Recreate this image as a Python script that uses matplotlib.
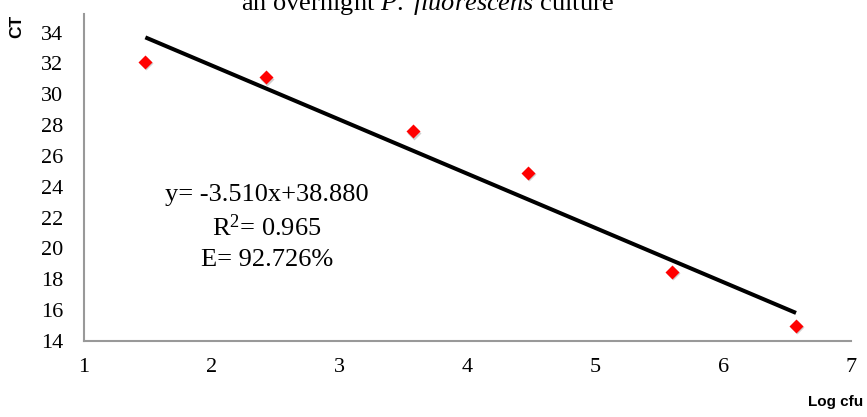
import matplotlib
matplotlib.use("Agg")
import matplotlib.pyplot as plt
import numpy as np

# data
log_cfu = [1.48, 2.42, 3.57, 4.47, 5.60, 6.57]
ct = [32.1, 31.1, 27.6, 24.9, 18.5, 15.0]
slope = -3.510
intercept = 38.880
x_ticks = [1, 2, 3, 4, 5, 6, 7]
y_ticks = [14, 16, 18, 20, 22, 24, 26, 28, 30, 32, 34]
eq_lines = ["y= -3.510x+38.880", "R$^2$= 0.965", "E= 92.726%"]

plt.rcParams['font.family'] = ['Liberation Serif', 'DejaVu Serif']
plt.rcParams['mathtext.fontset'] = 'custom'
plt.rcParams['mathtext.rm'] = 'Liberation Serif'
plt.rcParams['mathtext.it'] = 'Liberation Serif:italic'

fig = plt.figure(figsize=(8.67, 4.17), dpi=100)
ax = fig.add_axes([84 / 867, 1 - 341 / 417, (851 - 84) / 867, (341 - 14) / 417])

# fitted line across the data range
fx = np.array([min(log_cfu), max(log_cfu)])
ax.plot(fx, slope * fx + intercept, color='black', lw=2.9, solid_capstyle='butt', zorder=2)

# points with a soft shadow
shadow = ax.transData + matplotlib.transforms.ScaledTranslation(1 / 100, -1.5 / 100, fig.dpi_scale_trans)
ax.plot(log_cfu, ct, 'D', ms=7.5, color='#b0b0b0', alpha=0.6, mec='none', transform=shadow, zorder=3)
ax.plot(log_cfu, ct, 'D', ms=7, color='#ff0000', mec='none', zorder=4)

ax.set_xlim(1, 7)
ax.set_ylim(14, 35.2)
ax.set_xticks(x_ticks)
ax.set_yticks(y_ticks)
ax.tick_params(length=0, labelsize=16)
ax.tick_params(axis='x', pad=12)
ax.tick_params(axis='y', pad=15)
for s in ['top', 'right']:
    ax.spines[s].set_visible(False)
for s in ['left', 'bottom']:
    ax.spines[s].set_color('#999999')
    ax.spines[s].set_linewidth(1.5)

for i, t in enumerate(eq_lines):
    ax.text(2.43, 23.45 - i * 2.1, t, ha='center', va='center', fontsize=19)

fig.text(428 / 867, 1 - 10 / 417, 'an overnight $\\mathit{P.\\ fluorescens}$ culture',
         ha='center', va='baseline', fontsize=19)
fig.text(17 / 867, 1 - 26 / 417, 'CT', rotation=90, ha='center', va='center',
         fontsize=12.5, fontweight='bold', family='Liberation Sans')
fig.text(863 / 867, 1 - 402 / 417, 'Log cfu', ha='right', va='center',
         fontsize=11, fontweight='bold', family='Liberation Sans')

fig.savefig('out.png', dpi=100)
